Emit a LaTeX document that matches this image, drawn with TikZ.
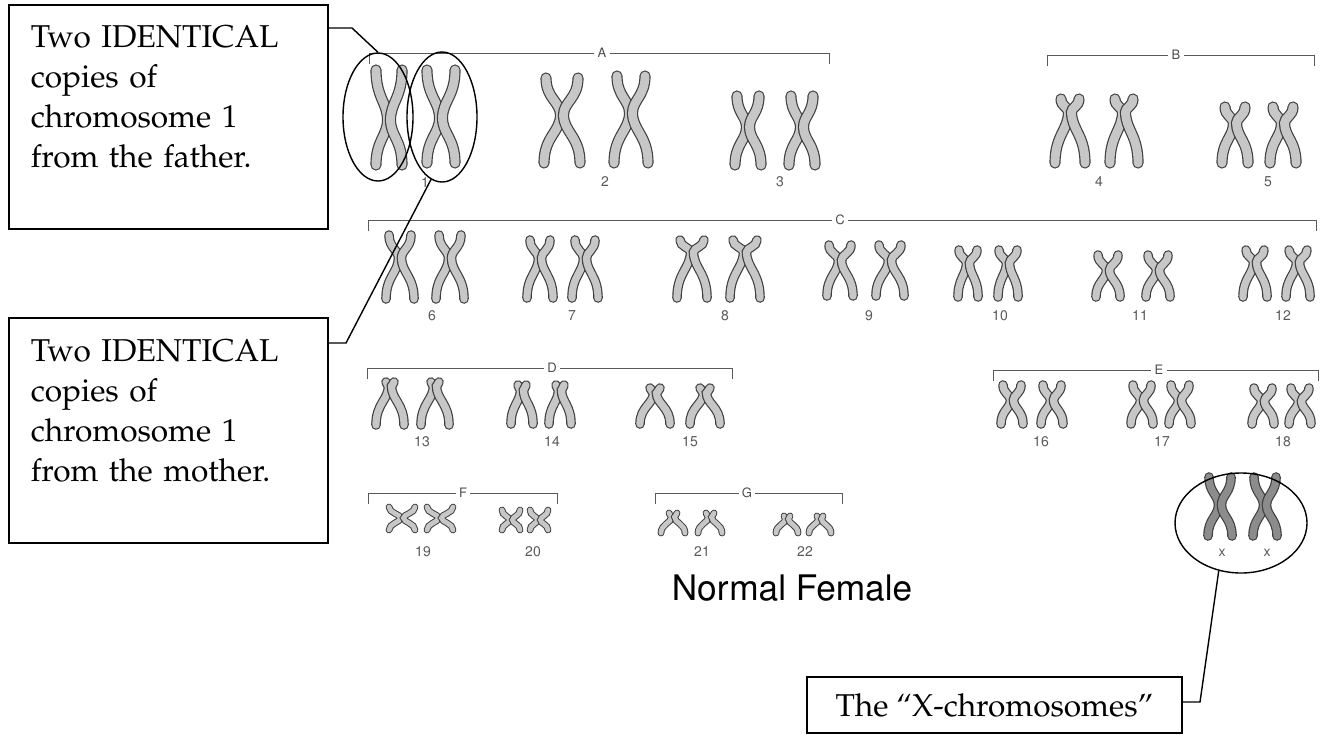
\documentclass[tikz,border=0pt]{standalone}
\usepackage[T1]{fontenc}
\usetikzlibrary{shapes.geometric}
\newcommand{\palfont}{\fontfamily{ppl}\selectfont}
\newcommand{\helvfont}{\fontfamily{phv}\selectfont}
\tikzset{
  chromatid/.style={draw=black!75, line width=0.6pt, double=black!22, double distance=3.6pt, line cap=round},
  big/.style={double distance=4.4pt},
  small/.style={double distance=2.4pt, line width=0.5pt},
  xchr/.style={double=black!45, double distance=3.6pt},
  callout/.style={draw, line width=0.8pt, inner xsep=11pt, inner ysep=0pt, align=left, text width=137.5pt, minimum width=159.5pt, font=\palfont\fontsize{15.8}{20}\selectfont},
  ring/.style={draw, ellipse, line width=0.7pt, inner sep=0pt},
  grp/.style={inner sep=1.5pt, text=black!70, font=\helvfont\fontsize{6.5}{7}\selectfont},
  num/.style={inner sep=1pt, text=black!65, font=\helvfont\fontsize{7}{8}\selectfont},
  bracket/.style={draw=black!65, line width=0.5pt},
}
% one chromosome: [style] x, top, centromere, bottom, upper spread, lower spread
\newcommand{\chromo}[7][]{%
  \draw[chromatid,#1] ({#2-#6},#3) .. controls ({#2-#6},{#4-0.45*(#4-#3)}) and ({#2-1.5},{#4-0.35*(#4-#3)}) .. ({#2-1.5},#4)
    .. controls ({#2-1.5},{#4+0.35*(#5-#4)}) and ({#2-#7},{#5-0.55*(#5-#4)}) .. ({#2-#7},#5);
  \draw[chromatid,#1] ({#2+#6},#3) .. controls ({#2+#6},{#4-0.45*(#4-#3)}) and ({#2+1.5},{#4-0.35*(#4-#3)}) .. ({#2+1.5},#4)
    .. controls ({#2+1.5},{#4+0.35*(#5-#4)}) and ({#2+#7},{#5-0.55*(#5-#4)}) .. ({#2+#7},#5);
}
\begin{document}
\begin{tikzpicture}[x=0.5pt,y=-0.5pt]
\useasboundingbox (0,0) rectangle (1321,734);

% groups A to G
\foreach \n/\l/\r/\m/\y in {A/369/829/602/53, B/1047/1314/1176/55, C/368/1316/840/220, D/367/732/552/368, E/993/1318/1159/370, F/368/557/463/493, G/655/842/747/493}{
  \node[grp] (g\n) at (\m,\y) {\n};
  \draw[bracket] ({\l},{\y+11}) |- (g\n.west);
  \draw[bracket] (g\n.east) -| ({\r},{\y+11});
}

% chromosomes 1 to 5
\foreach \xc/\yt/\yc/\yb/\wt/\wb in {389/70/120/165/13/13, 441/70/118/163/14/14, 562/78/115/163/16/18, 631/76/113/163/14/17, 748/96/127/165/11/13, 802/96/127/165/11/13, 1070/99/112/163/9/15, 1124/99/112/163/9/14, 1235/107/123/163/10/13, 1283/107/123/163/10/13}{
  \chromo[big]{\xc}{\yt}{\yc}{\yb}{\wt}{\wb}
}
% chromosomes 6 to 12
\foreach \xc/\yt/\yc/\yb/\wt/\wb in {400/235/258/299/11/14, 450/235/258/299/11/14, 540/240/258/298/10/13, 585/240/258/298/10/13, 692/240/252/298/12/15, 745/240/252/298/12/15, 840/245/260/296/11/13, 890/245/260/296/11/14, 968/250/263/297/9/10, 1008/250/263/297/9/10, 1108/255/270/297/10/12, 1158/255/270/297/10/12, 1255/250/262/297/9/12, 1298/250/262/297/9/12}{
  \chromo{\xc}{\yt}{\yc}{\yb}{\wt}{\wb}
}
% chromosomes 13 to 18
\foreach \xc/\yt/\yc/\yb/\wt/\wb in {390/382/386/425/4/14, 435/382/386/425/4/14, 522/385/390/424/4/11, 560/385/390/424/4/11, 655/388/393/424/5/15, 705/388/393/424/5/15, 1012/385/400/424/9/11, 1052/385/400/424/9/11, 1142/385/400/424/9/11, 1180/385/400/424/9/11, 1263/388/401/424/9/11, 1300/388/401/424/9/11}{
  \chromo{\xc}{\yt}{\yc}{\yb}{\wt}{\wb}
}
% chromosomes 19 to 22
\foreach \xc/\yt/\yc/\yb/\wt/\wb in {402/507/518/530/13/13, 440/507/518/530/13/13, 511/510/520/530/9/9, 539/510/520/530/9/9, 673/513/517/533/4/12, 710/513/517/533/4/12, 787/516/519/533/3/11, 820/516/519/533/3/11}{
  \chromo[small]{\xc}{\yt}{\yc}{\yb}{\wt}{\wb}
}
% the X pair
\chromo[xchr]{1220}{477}{505}{536}{11}{12}
\chromo[xchr]{1265}{477}{505}{536}{11}{12}

% numbers
\foreach \t/\x/\y in {1/425/183, 2/605/182, 3/780/182, 4/1099/182, 5/1268/182, 6/432/316, 7/572/316, 8/725/316, 9/869/316, 10/1000/316, 11/1140/316, 12/1283/316, 13/422/442, 14/552/442, 15/690/442, 16/1041/442, 17/1162/442, 18/1283/442, 19/423/552, 20/533/552, 21/702/552, 22/805/552}{
  \node[num] (n\t) at (\x,\y) {\t};
}
\node[num] (nx1) at (1222,553) {x};
\node[num] (nx2) at (1267,553) {x};

\node[font=\helvfont\fontsize{17.6}{20}\selectfont, anchor=base] (title) at (792,600) {Normal Female};

% circles round the chromosomes
\node[ring, minimum width=35pt, minimum height=64pt] (e1) at (378,117) {};
\node[ring, minimum width=35pt, minimum height=65pt] (e2) at (442,117) {};
\node[ring, minimum width=66pt, minimum height=50pt] (eX) at (1241,523) {};

% text boxes
\node[callout, anchor=north west, minimum height=112pt] (father) at (8,4) {Two IDENTICAL\\copies of\\chromosome 1\\from the father.\\\mbox{}};
\node[callout, anchor=north west, minimum height=112.5pt] (mother) at (8,317) {Two IDENTICAL\\copies of\\chromosome 1\\from the mother.\\\mbox{}};
\node[draw, line width=0.8pt, minimum width=187.5pt, minimum height=28pt, inner sep=0pt, font=\palfont\fontsize{15.8}{20}\selectfont] (xbox) at (994.5,705) {The ``X-chromosomes''};

% leaders
\coordinate (k1) at (352,28);
\coordinate (k2) at (346,343);
\coordinate (k3) at (1200,702);
\draw[line width=0.7pt] (father.east |- k1) -- (k1) -- (e1.north);
\draw[line width=0.7pt] (e2.-100) -- (k2) -- (k2 -| mother.east);
\draw[line width=0.7pt] (eX.-115) -- (k3) -- (k3 -| xbox.east);
\end{tikzpicture}
\end{document}
